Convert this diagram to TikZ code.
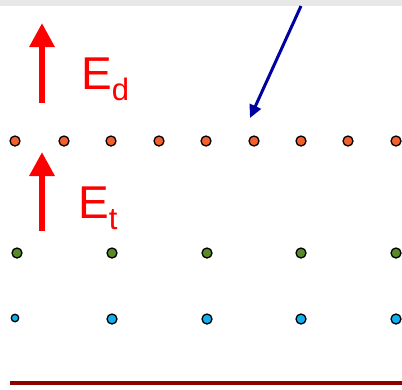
\documentclass[tikz,border=0pt]{standalone}
\usepackage{fontspec}
\setmainfont{Liberation Sans}
\usetikzlibrary{arrows.meta}
\definecolor{orangedot}{HTML}{F26030}
\definecolor{greendot}{HTML}{5A8A28}
\definecolor{bluedot}{HTML}{10B0F0}
\definecolor{navy}{HTML}{0000A0}
\definecolor{darkred}{HTML}{8B0000}
\definecolor{band}{HTML}{E8E8E8}
\begin{document}
\begin{tikzpicture}[x=1pt,y=-1pt,
  dot/.style={circle,draw=black,line width=1.3pt,inner sep=0pt,minimum size=10pt},
  odot/.style={dot,fill=orangedot},
  gdot/.style={dot,fill=greendot},
  bdot/.style={dot,fill=bluedot},
  fieldarrow/.style={draw=red,line width=6pt,-{Triangle[width=24pt,length=24pt]}},
  lbl/.style={text=red,font=\fontsize{46}{46}\selectfont,inner sep=0pt,anchor=base west}]
\useasboundingbox (0,0) rectangle (402,389);
\fill[band] (0,0) rectangle (402,6);
% orange row
\foreach \i/\x in {1/15,2/64,3/111,4/159,5/206,6/254,7/301,8/348,9/396}
  \node[odot] (o\i) at (\x,141) {};
% green row
\foreach \i/\x in {1/17,2/112,3/207,4/301,5/396}
  \node[gdot] (g\i) at (\x,253) {};
% blue row
\foreach \i/\x in {2/112,3/207,4/301,5/396}
  \node[bdot] (b\i) at (\x,319) {};
\node[bdot,minimum size=7.5pt] (b1) at (15,318) {};
% field arrows
\coordinate (d0) at (42,103);
\coordinate (d1) at (42,23);
\draw[fieldarrow] (d0) -- (d1);
\coordinate (t0) at (42,231);
\coordinate (t1) at (42,152);
\draw[fieldarrow] (t0) -- (t1);
\node[lbl] (ed) at (81,89) {E\raisebox{-0.25em}{\fontsize{31}{31}\selectfont d}};
\node[lbl] (et) at (78,218) {E\raisebox{-0.25em}{\fontsize{31}{31}\selectfont t}};
% incoming arrow
\coordinate (n0) at (301,6);
\coordinate (n1) at (250,118);
\draw[navy,line width=3pt,-{Triangle[width=12pt,length=13pt]}] (n0) -- (n1);
% bottom line
\draw[darkred,line width=4pt] (10,383) -- (402,383);
\end{tikzpicture}
\end{document}
